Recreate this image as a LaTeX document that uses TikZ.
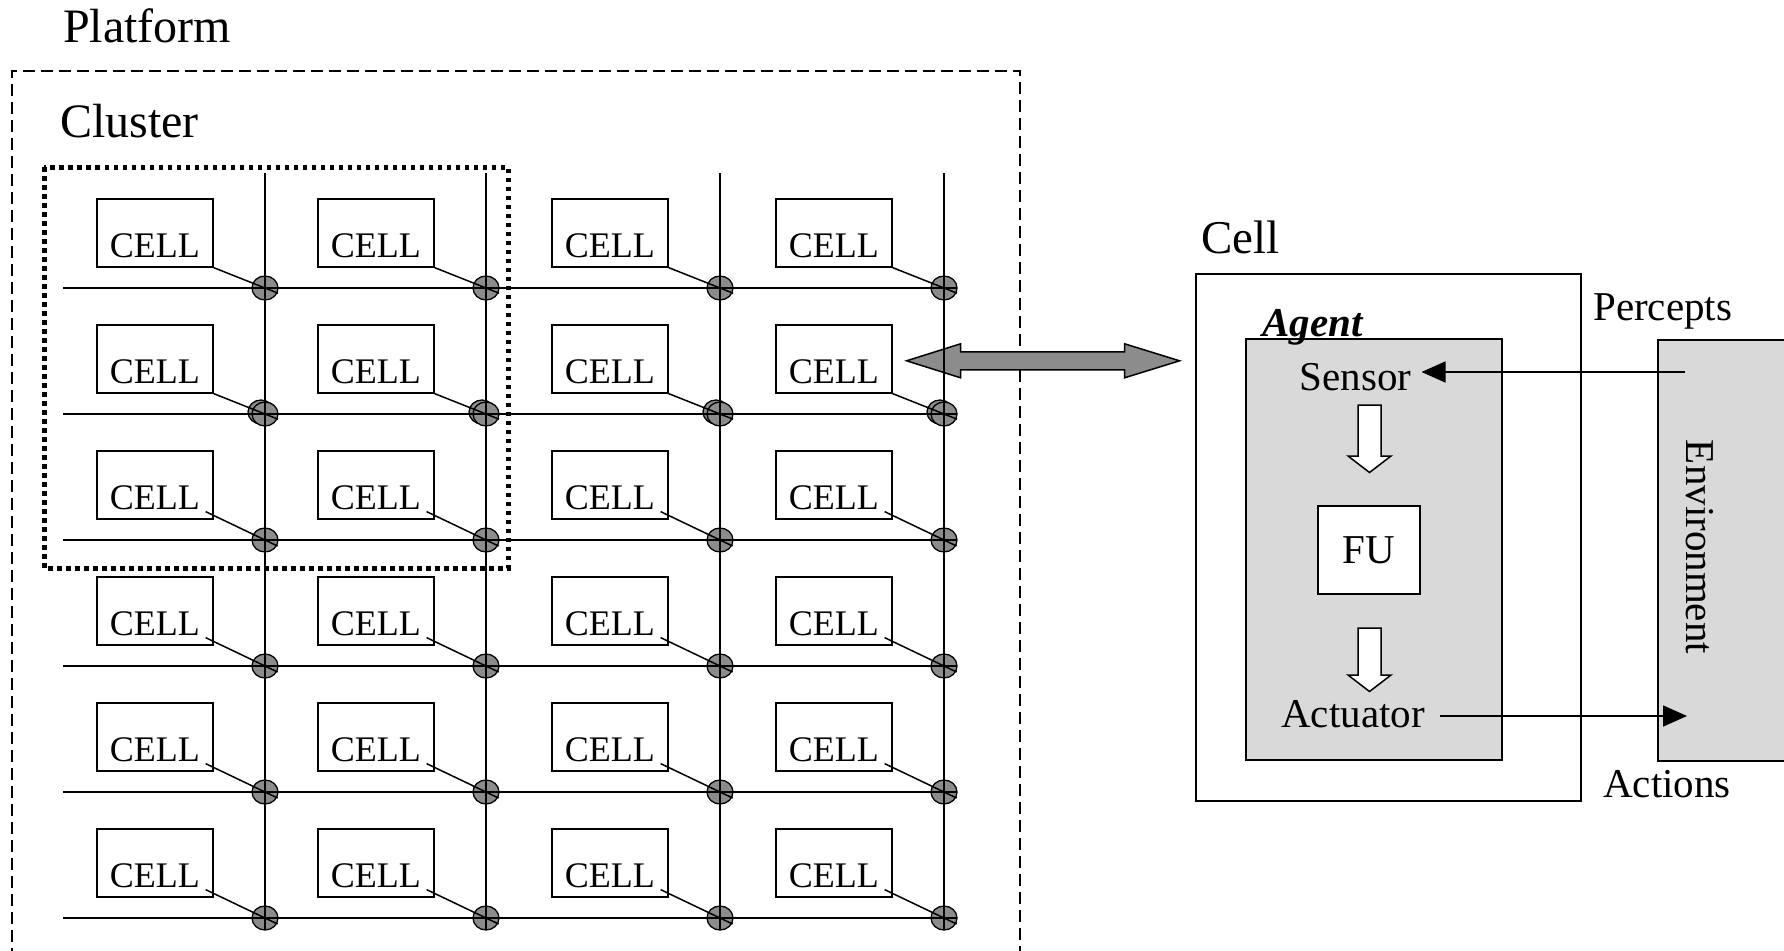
\documentclass[tikz,border=0pt]{standalone}
\usepackage{fontspec}
\setmainfont{Liberation Serif}
\usetikzlibrary{arrows.meta,calc}

\definecolor{lightfill}{RGB}{217,217,217}
\definecolor{darkfill}{RGB}{140,140,140}

\tikzset{
  cellbox/.style={draw, line width=1.6pt, anchor=north west, inner xsep=13pt, inner ysep=0pt,
    text height=59pt, text depth=9pt, font=\fontsize{36}{36}\selectfont},
  joint/.style={draw, line width=1.3pt, fill=darkfill},
  wire/.style={line width=1.8pt},
  title/.style={anchor=base west, inner sep=0pt, font=\fontsize{48}{48}\selectfont},
  word/.style={inner sep=0pt, font=\fontsize{41}{41}\selectfont},
  panel/.style={draw, line width=1.6pt, inner sep=0pt},
  hollow/.style={draw, line width=1.5pt, fill=white, line join=miter},
  tri/.style={line width=1.6pt, -{Triangle[length=24pt,width=21pt]}},
}

\begin{document}
\begin{tikzpicture}[x=1pt,y=-1pt]
\useasboundingbox (0,0) rectangle (1784,950);
\clip (0,0) rectangle (1784,950);

% platform and cluster frames
\node[title] (platform) at (63,42) {Platform};
\node[title] (cluster) at (60,137) {Cluster};
\draw[line width=1.5pt, dash pattern=on 12pt off 6pt] (12,960) -- (12,71) -- (1020,71) -- (1020,960);
\draw[line width=5pt, dash pattern=on 4.5pt off 4.5pt] (44,167) rectangle (508,568);

% cells of the grid
\foreach \c/\x in {1/265,2/486,3/720,4/944}
  \foreach \r/\y in {1/288,2/414,3/540,4/666,5/792,6/918} {
    \node[cellbox] (c\r\c) at (\x-169,\y-90) {CELL};
    \coordinate (j\r\c) at (\x,\y);
  }

% link between a grid cell and the cell view
\coordinate (dl) at ([xshift=14pt,yshift=-2pt]c24.east);
\draw[line width=1.5pt, fill=darkfill] (dl) -- ++(54,-17) -- ++(0,8) -- ++(164,0) -- ++(0,-8)
  -- ++(55,17) -- ++(-55,17) -- ++(0,-8) -- ++(-164,0) -- ++(0,8) -- cycle;

% joints
\foreach \x in {265,486,720,944}
  \draw[joint] (\x-4,412) ellipse [x radius=13pt, y radius=12pt];
\foreach \x in {265,486,720,944}
  \foreach \y in {288,414,540,666,792,918}
    \draw[joint] (\x,\y) ellipse [x radius=13pt, y radius=12pt];

% bus lines
\foreach \y in {288,414,540,666,792,918}
  \draw[wire] (63,\y) -- (956,\y);
\foreach \x in {265,486,720,944}
  \draw[wire] (\x,173) -- (\x,930);

% cell to joint
\foreach \c in {1,2,3,4}
  \foreach \r in {1,...,6} {
    \ifnum\r<3
      \coordinate (s) at (c\r\c.south east);
    \else
      \coordinate (s) at ([shift={(-8,-8)}]c\r\c.south east);
    \fi
    \draw[line width=1.5pt] (s) -- ($(j\r\c)!-14pt!(s)$);
  }

% cell view
\node[panel, minimum width=385pt, minimum height=527pt] (cellbox) at (1388.5,537.5) {};
\node[title, font=\fontsize{47}{47}\selectfont] (celltitle) at (1201,253) {Cell};
\node[panel, fill=lightfill, minimum width=256pt, minimum height=421pt] (agent) at (1374,549.5) {};
\node[word, anchor=base west, font=\fontsize{41}{41}\selectfont\bfseries\itshape] (agentlbl) at (1262,336) {Agent};
\node[word, anchor=base, inner xsep=10pt] (sensor) at (1355.5,390) {Sensor};
\node[panel, word, fill=white, minimum width=102pt, minimum height=88pt] (fu) at (1369,550) {FU};
\node[word, anchor=base, inner xsep=15pt] (actuator) at (1353,727) {Actuator};

\foreach \t/\h in {405/51,628/47}
  \draw[hollow] (1358,\t) -- ++(23,0) -- ++(0,\h) -- ++(10,0) -- ++(-21.5,16.5)
    -- ++(-21.5,-16.5) -- ++(10,0) -- cycle;

% environment
\node[panel, fill=lightfill, minimum width=160pt, minimum height=421pt, anchor=north west] (env) at (1657,339) {};
\node[word, rotate=-90] (envlbl) at (1700,547) {Environment};
\node[word, anchor=base west] (percepts) at (1593,320) {Percepts};
\node[word, anchor=base west] (actions) at (1603,797) {Actions};

\coordinate (envin) at (1685,372);
\coordinate (envout) at (1687,716);
\draw[tri] (envin) -- (envin -| sensor.east);
\draw[tri] (actuator.east |- envout) -- (envout);
\end{tikzpicture}
\end{document}
